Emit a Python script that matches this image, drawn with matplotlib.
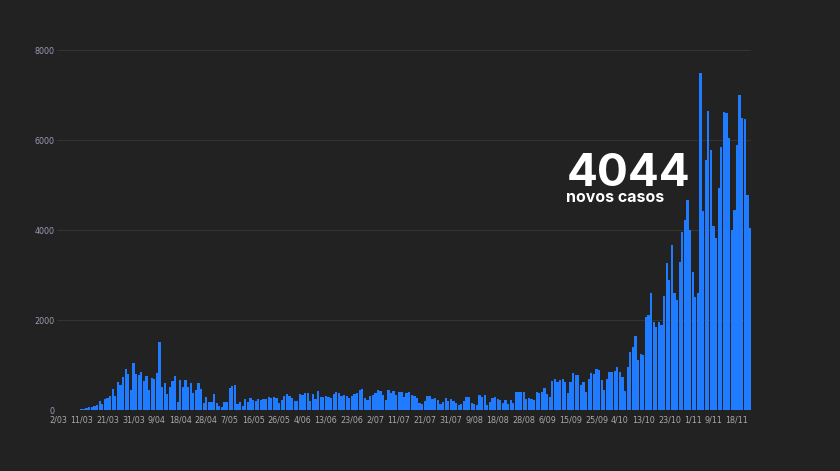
import numpy as np
import pandas as pd
import matplotlib
matplotlib.use('Agg')
import matplotlib.pyplot as plt

# daily new cases, 2 March - 23 November
mar = [2, 2, 2, 3, 4, 8, 9, 9, 2, 18, 19, 34, 57, 76, 86, 117, 194, 143, 235, 260,
       320, 460, 302, 633, 549, 724, 902, 792, 446, 1035]
apr = [808, 783, 852, 638, 754, 452, 712, 699, 815, 1516, 515, 598, 349, 514, 643,
       750, 181, 663, 521, 657, 516, 603, 371, 444, 595, 472, 163, 295, 183, 187]
may = [353, 145, 92, 69, 173, 178, 480, 533, 553, 138, 175, 98, 234, 187, 264, 226,
       207, 247, 218, 252, 254, 288, 271, 291, 257, 165, 219, 304, 350, 304, 257]
jun = [200, 195, 366, 331, 377, 382, 192, 346, 240, 430, 294, 300, 310, 283, 270,
       346, 407, 380, 311, 329, 303, 260, 311, 345, 367, 451, 457, 266, 229, 313]
jul = [328, 374, 444, 413, 328, 229, 443, 375, 418, 342, 402, 402, 295, 385, 392,
       339, 312, 265, 150, 135, 194, 320, 313, 252, 276, 226, 135, 180, 260, 210, 241]
aug = [204, 164, 106, 130, 193, 300, 278, 150, 138, 122, 333, 290, 325, 110, 181,
       258, 290, 253, 232, 156, 223, 138, 219, 150, 407, 390, 401, 406, 247, 260, 247]
sep = [219, 407, 386, 401, 481, 350, 300, 646, 687, 620, 673, 681, 613, 385, 613,
       815, 770, 780, 552, 613, 404, 691, 828, 800, 904, 899, 670, 444, 700, 840]
oct_ = [850, 870, 963, 853, 740, 427, 963, 1278, 1394, 1646, 1110, 1249, 1222, 2072,
        2101, 2608, 1960, 1850, 1949, 1880, 2535, 3270, 2899, 3669, 2593, 2447, 3296,
        3960, 4224, 4656, 4007]
nov = [3062, 2506, 2590, 7497, 4420, 5550, 6640, 5780, 4100, 3815, 4935, 5840, 6630,
       6600, 6040, 4000, 4450, 5891, 6994, 6489, 6472, 4788, 4044]

cases = mar + apr + may + jun + jul + aug + sep + oct_ + nov

tick_labels = ['2/03', '11/03', '21/03', '31/03', '9/04', '18/04', '28/04', '7/05',
               '16/05', '26/05', '4/06', '13/06', '23/06', '2/07', '11/07', '21/07',
               '31/07', '9/08', '18/08', '28/08', '6/09', '15/09', '25/09', '4/10',
               '13/10', '23/10', '1/11', '9/11', '18/11']
y_ticks = [0, 2000, 4000, 6000, 8000]

dates = pd.date_range('2020-03-02', periods=len(cases), freq='D')
day_labels = [f"{d.day}/{d.month:02d}" for d in dates]
tick_pos = [day_labels.index(t) for t in tick_labels]

bg = '#222222'
fig = plt.figure(figsize=(8.4, 4.71), dpi=100, facecolor=bg)
ax = fig.add_axes([0.0675, 0.1295, 0.8269, 0.7643])
ax.set_facecolor(bg)

x = np.arange(len(cases))
ax.bar(x, cases, width=0.86, color='#1f7bff', zorder=2)

ax.set_xlim(-0.5, len(cases) - 0.5)
ax.set_ylim(0, 8000)
ax.set_yticks(y_ticks)
ax.set_yticklabels([str(v) for v in y_ticks])
ax.set_xticks(tick_pos)
ax.set_xticklabels(tick_labels)
ax.grid(axis='y', color='#343434', lw=0.8, zorder=0)
ax.grid(axis='x', visible=False)
for s in ax.spines.values():
    s.set_visible(False)
ax.tick_params(axis='x', length=0, pad=4, labelsize=5.8, labelcolor='#a8a8a8')
ax.tick_params(axis='y', length=0, pad=1.5, labelsize=5.8, labelcolor='#9a9ab4')

# big annotation of the last value
fig.text(567 / 840, 1 - 186 / 471, str(cases[-1]), color='white', fontsize=33,
         fontweight='bold', family='Inter', ha='left', va='baseline')
fig.text(566 / 840, 1 - 202 / 471, 'novos casos', color='white', fontsize=11.5,
         fontweight='bold', family='Inter', ha='left', va='baseline')

fig.savefig('out.png', dpi=100, facecolor=bg)
